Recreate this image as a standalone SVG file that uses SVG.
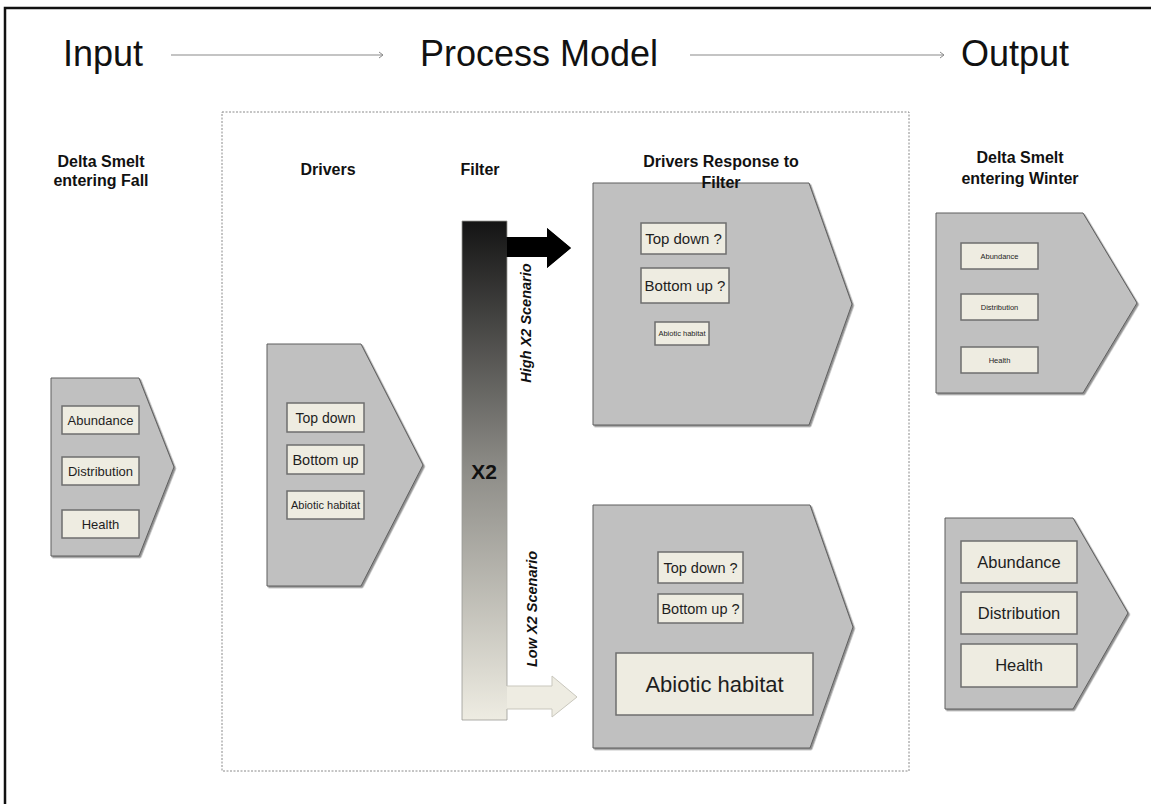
<svg xmlns="http://www.w3.org/2000/svg" width="1151" height="804" viewBox="0 0 1151 804">
<defs>
<style>
.hdr{font-family:"Liberation Sans",Arial,sans-serif;font-size:36px;fill:#111;}
.sec{font-family:"Liberation Sans",Arial,sans-serif;font-size:16px;font-weight:bold;fill:#111;text-anchor:middle;}
.pent{fill:#c0c0c0;stroke:#5f5f5f;stroke-width:1;filter:url(#sh);}
.box{fill:#eeece1;stroke:#6e6e6e;stroke-width:1.5;}
.bt{font-family:"Liberation Sans",Arial,sans-serif;fill:#1e1e1e;text-anchor:middle;}
.scn{font-family:"Liberation Sans",Arial,sans-serif;font-size:14.5px;font-weight:bold;font-style:italic;fill:#111;text-anchor:middle;}
.hline{stroke:#8a8a8a;stroke-width:1.2;fill:none;}
</style>
<filter id="sh" x="-5%" y="-5%" width="115%" height="115%">
<feDropShadow dx="1.5" dy="1.5" stdDeviation="0.7" flood-color="#444" flood-opacity="0.6"/>
</filter>
<marker id="chev" markerWidth="10" markerHeight="10" refX="7" refY="4" orient="auto" markerUnits="userSpaceOnUse">
<polyline points="3,1 7,4 3,7" fill="none" stroke="#8a8a8a" stroke-width="1"/>
</marker>
<linearGradient id="grad" x1="0" y1="221" x2="0" y2="720" gradientUnits="userSpaceOnUse">
<stop offset="0" stop-color="#141414"/>
<stop offset="0.5" stop-color="#8e8d88"/>
<stop offset="1" stop-color="#eeece2"/>
</linearGradient>
</defs>
<rect x="0" y="0" width="1151" height="804" fill="#fff"/>
<path d="M5,804 V8 H1151" fill="none" stroke="#111" stroke-width="2.5"/>

<g id="header">
<text class="hdr" x="63" y="66">Input</text>
<text class="hdr" x="420" y="66">Process Model</text>
<text class="hdr" x="961" y="66">Output</text>
</g>

<g id="connectors">
<line class="hline" x1="171" y1="55" x2="383" y2="55" marker-end="url(#chev)"/>
<line class="hline" x1="690" y1="55" x2="944" y2="55" marker-end="url(#chev)"/>
</g>

<rect id="process-box" x="222" y="112" width="687" height="659" fill="none" stroke="#8a8a8a" stroke-width="1" stroke-dasharray="2,1.5"/>

<g id="headings">
<text class="sec" x="101" y="167">Delta Smelt</text>
<text class="sec" x="101" y="186">entering Fall</text>
<text class="sec" x="328" y="175">Drivers</text>
<text class="sec" x="480" y="175">Filter</text>
<text class="sec" x="1020" y="163">Delta Smelt</text>
<text class="sec" x="1020" y="184">entering Winter</text>
</g>

<g id="fall">
<polygon class="pent" points="51,378 139,378 174,467 139,556 51,556"/>
<rect class="box" x="62" y="406" width="77" height="28"/>
<text class="bt" x="100.5" y="425" font-size="13">Abundance</text>
<rect class="box" x="62" y="457" width="77" height="28"/>
<text class="bt" x="100.5" y="476" font-size="13">Distribution</text>
<rect class="box" x="62" y="510" width="77" height="28"/>
<text class="bt" x="100.5" y="529" font-size="13">Health</text>
</g>

<g id="drivers">
<polygon class="pent" points="267,344 361,344 423,465 361,586 267,586"/>
<rect class="box" x="287" y="403" width="77" height="29"/>
<text class="bt" x="325.5" y="423" font-size="14">Top down</text>
<rect class="box" x="287" y="445" width="77" height="29"/>
<text class="bt" x="325.5" y="465" font-size="14.5">Bottom up</text>
<rect class="box" x="287" y="491" width="77" height="28"/>
<text class="bt" x="325.5" y="509" font-size="11">Abiotic habitat</text>
</g>

<g id="filter">
<path d="M462,221 H507 V237 H547 V228 L571,248 L547,268 V257 H507 V720 H462 Z" fill="url(#grad)"/>
<path d="M507,237 H547 V228 L571,248 L547,268 V257 H507 Z" fill="#000"/>
<path d="M507,237 V221 H462 V720 H507 V709 M507,686 V257" fill="none" stroke="#9a9a96" stroke-width="0.8"/>
<path d="M507,686 H552 V676 L577,697 L552,717 V709 H507" fill="#eeece2" stroke="#c9c7bd" stroke-width="1"/>
<text x="484" y="479" font-family="Liberation Sans, Arial, sans-serif" font-size="21" font-weight="bold" fill="#111" text-anchor="middle">X2</text>
<text class="scn" transform="translate(531,323) rotate(-90)">High X2 Scenario</text>
<text class="scn" transform="translate(537,609) rotate(-90)">Low X2 Scenario</text>
</g>

<g id="response-high">
<polygon class="pent" points="593,183 809,183 852,304 809,425 593,425"/>
<rect class="box" x="641" y="223" width="85" height="31"/>
<text class="bt" x="683.5" y="244" font-size="15">Top down ?</text>
<rect class="box" x="641" y="268" width="88" height="35"/>
<text class="bt" x="685" y="291" font-size="15">Bottom up ?</text>
<rect class="box" x="655" y="322" width="54" height="23"/>
<text class="bt" x="682" y="336" font-size="7.5">Abiotic habitat</text>
</g>

<g id="response-low">
<polygon class="pent" points="593,505 810,505 853,627 810,748 593,748"/>
<rect class="box" x="658" y="552" width="85" height="31"/>
<text class="bt" x="700.5" y="573" font-size="14.5">Top down ?</text>
<rect class="box" x="658" y="594" width="85" height="29"/>
<text class="bt" x="700.5" y="614" font-size="14.5">Bottom up ?</text>
<rect class="box" x="616" y="653" width="197" height="62"/>
<text class="bt" x="714.5" y="692" font-size="22">Abiotic habitat</text>
</g>

<text class="sec" x="721" y="167">Drivers Response to</text>
<text class="sec" x="721" y="188">Filter</text>

<g id="winter-high">
<polygon class="pent" points="936,213 1083,213 1137,303 1083,393 936,393"/>
<rect class="box" x="961" y="243" width="77" height="26"/>
<text class="bt" x="999.5" y="259" font-size="7.5">Abundance</text>
<rect class="box" x="961" y="294" width="77" height="26"/>
<text class="bt" x="999.5" y="310" font-size="7.5">Distribution</text>
<rect class="box" x="961" y="347" width="77" height="26"/>
<text class="bt" x="999.5" y="363" font-size="7.5">Health</text>
</g>

<g id="winter-low">
<polygon class="pent" points="945,518 1073,518 1128,613 1073,709 945,709"/>
<rect class="box" x="961" y="541" width="116" height="42"/>
<text class="bt" x="1019" y="568" font-size="16.5">Abundance</text>
<rect class="box" x="961" y="592" width="116" height="42"/>
<text class="bt" x="1019" y="619" font-size="16.5">Distribution</text>
<rect class="box" x="961" y="644" width="116" height="43"/>
<text class="bt" x="1019" y="671" font-size="16.5">Health</text>
</g>
</svg>
